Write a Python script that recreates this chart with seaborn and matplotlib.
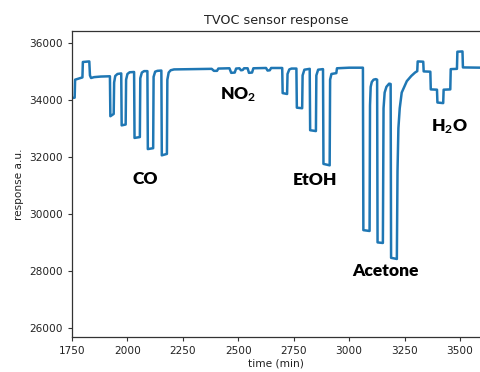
import matplotlib
matplotlib.use("Agg")
import matplotlib.pyplot as plt
import seaborn as sns
import pandas as pd

# --- data ---
time_min = [
    1750, 1762, 1764, 1790, 1797, 1799, 1828, 1831, 1836, 1850, 1880, 1921,
    1923, 1938, 1940, 1945, 1955, 1972,
    1974, 1992, 1994, 2000, 2010, 2030,
    2032, 2056, 2058, 2065, 2075, 2090,
    2092, 2116, 2118, 2125, 2135, 2153,
    2155, 2178, 2180, 2186, 2195, 2210,
    2380, 2390, 2404, 2410, 2460, 2468, 2484, 2490, 2505, 2512, 2520, 2526,
    2542, 2548, 2562, 2568, 2625, 2632, 2642, 2648, 2698,
    2700, 2720, 2722, 2730, 2740, 2762, 2764, 2788, 2790, 2798, 2822,
    2824, 2850, 2852, 2860, 2882, 2884, 2912, 2914, 2920, 2942, 2945, 3000, 3062,
    3064, 3092, 3094, 3097, 3102, 3110, 3120, 3126,
    3128, 3152, 3155, 3160, 3168, 3180, 3187,
    3189, 3215, 3218, 3222, 3228, 3237, 3260, 3280, 3297, 3307,
    3309, 3334, 3336, 3366, 3368, 3396, 3398, 3424, 3426, 3456, 3458, 3486,
    3488, 3511, 3513, 3600,
]
response = [
    34060, 34070, 34700, 34760, 34780, 35320, 35340, 34850, 34760, 34790, 34810, 34820,
    33420, 33500, 34600, 34830, 34900, 34920,
    33100, 33130, 34700, 34900, 34960, 34970,
    32660, 32690, 34750, 34950, 35000, 35000,
    32270, 32300, 34800, 34980, 35010, 35020,
    32050, 32100, 34700, 34950, 35030, 35060,
    35080, 35010, 35010, 35090, 35100, 34940, 34950, 35090, 35100, 35030, 35040, 35100,
    35100, 34940, 34950, 35100, 35110, 35020, 35030, 35110, 35110,
    34230, 34200, 34900, 35060, 35090, 35090, 33720, 33700, 34850, 35050, 35080,
    32930, 32900, 34850, 35050, 35070, 31750, 31700, 34700, 34900, 34930, 35100, 35120, 35120,
    29430, 29400, 33800, 34450, 34620, 34700, 34720, 34700,
    29000, 28980, 33700, 34250, 34450, 34560, 34550,
    28460, 28420, 31500, 33000, 33700, 34250, 34650, 34830, 34950, 35000,
    35340, 35330, 34990, 34980, 34360, 34350, 33900, 33880, 34350, 34360, 35070, 35080,
    35680, 35690, 35130, 35120,
]

labels = ["CO", "NO$_2$", "EtOH", "Acetone", "H$_2$O"]
label_x = [2079, 2499, 2846, 3162, 3451]
label_y = [31208, 34175, 31174, 27999, 33058]

# --- plot ---
sns.set_style("ticks")
plt.rcParams["font.family"] = ["DejaVu Sans"]
plt.rcParams["mathtext.fontset"] = "custom"
plt.rcParams["mathtext.rm"] = "Lato:bold"
plt.rcParams["mathtext.it"] = "Lato:bold"
plt.rcParams["mathtext.bf"] = "Lato:bold"

df = pd.DataFrame({"time": time_min, "response": response})

fig = plt.figure(figsize=(4.8, 3.72), dpi=100)
ax = fig.add_axes([0.15, 0.094, 0.85, 0.823])
sns.lineplot(data=df, x="time", y="response", ax=ax, color="#1f77b4",
             linewidth=1.8, estimator=None, sort=False)

ax.set_xlim(1750, 3590)
ax.set_ylim(25685, 36410)
ax.set_xticks([1750, 2000, 2250, 2500, 2750, 3000, 3250, 3500])
ax.set_yticks([26000, 28000, 30000, 32000, 34000, 36000])
ax.tick_params(labelsize=7.6, length=3, color="#333333", labelcolor="#222222")
ax.set_xlabel("time (min)", fontsize=7.6, color="#222222", labelpad=2)
ax.set_ylabel("response a.u.", fontsize=7.6, color="#222222", labelpad=4)
ax.set_title("TVOC sensor response", fontsize=9.2, color="#222222", pad=5)
ax.spines["right"].set_visible(False)
for s in ["left", "bottom", "top"]:
    ax.spines[s].set_color("#333333")
    ax.spines[s].set_linewidth(0.9)

for txt, lx, ly in zip(labels, label_x, label_y):
    ax.text(lx, ly, txt, ha="center", va="center", fontsize=12.5,
            fontweight="heavy", family=["Lato", "DejaVu Sans"], color="black")

fig.savefig("out.png", dpi=100)
